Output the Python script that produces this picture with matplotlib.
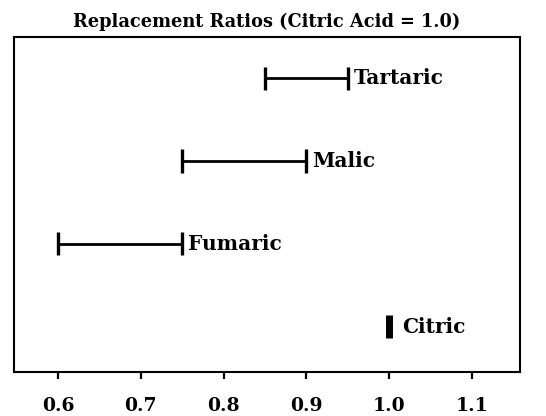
import matplotlib

matplotlib.use("Agg")
import matplotlib.pyplot as plt

ACIDS = ["Citric", "Fumaric", "Malic", "Tartaric"]
LOW = [1.0, 0.60, 0.75, 0.85]
HIGH = [1.0, 0.75, 0.90, 0.95]
XTICKS = [0.6, 0.7, 0.8, 0.9, 1.0, 1.1]

FONT = "DejaVu Serif"

fig = plt.figure(figsize=(5.46, 4.16), dpi=100)
ax = fig.add_axes([14 / 546, 1 - 372 / 416, 506 / 546, 335 / 416])

for i, (name, lo, hi) in enumerate(zip(ACIDS, LOW, HIGH)):
    y = i + 1
    if lo == hi:
        # single value: thick short bar
        ax.plot([lo, lo], [y - 0.14, y + 0.14], color="black", linewidth=5,
                solid_capstyle="butt")
        gap = 0.016
    else:
        ax.plot([lo, hi], [y, y], color="black", linewidth=2)
        for x in (lo, hi):
            ax.plot([x, x], [y - 0.14, y + 0.14], color="black", linewidth=2.4,
                    solid_capstyle="butt")
        gap = 0.007
    ax.text(hi + gap, y, name, va="center", ha="left",
            fontsize=14.5, fontweight="bold", family=FONT)

ax.set_xlim(0.547, 1.158)
ax.set_ylim(0.45, 4.5)
ax.set_xticks(XTICKS)
ax.set_xticklabels([f"{t:.1f}" for t in XTICKS], fontsize=13.5, fontweight="bold",
                   family=FONT)
ax.set_yticks([])
ax.tick_params(axis="x", direction="out", length=5, width=1.6, pad=13)
for spine in ax.spines.values():
    spine.set_linewidth(1.5)

ax.set_title("Replacement Ratios (Citric Acid = 1.0)", fontsize=12.8,
             fontweight="bold", family=FONT, pad=7)

fig.savefig("out.png", dpi=100)
